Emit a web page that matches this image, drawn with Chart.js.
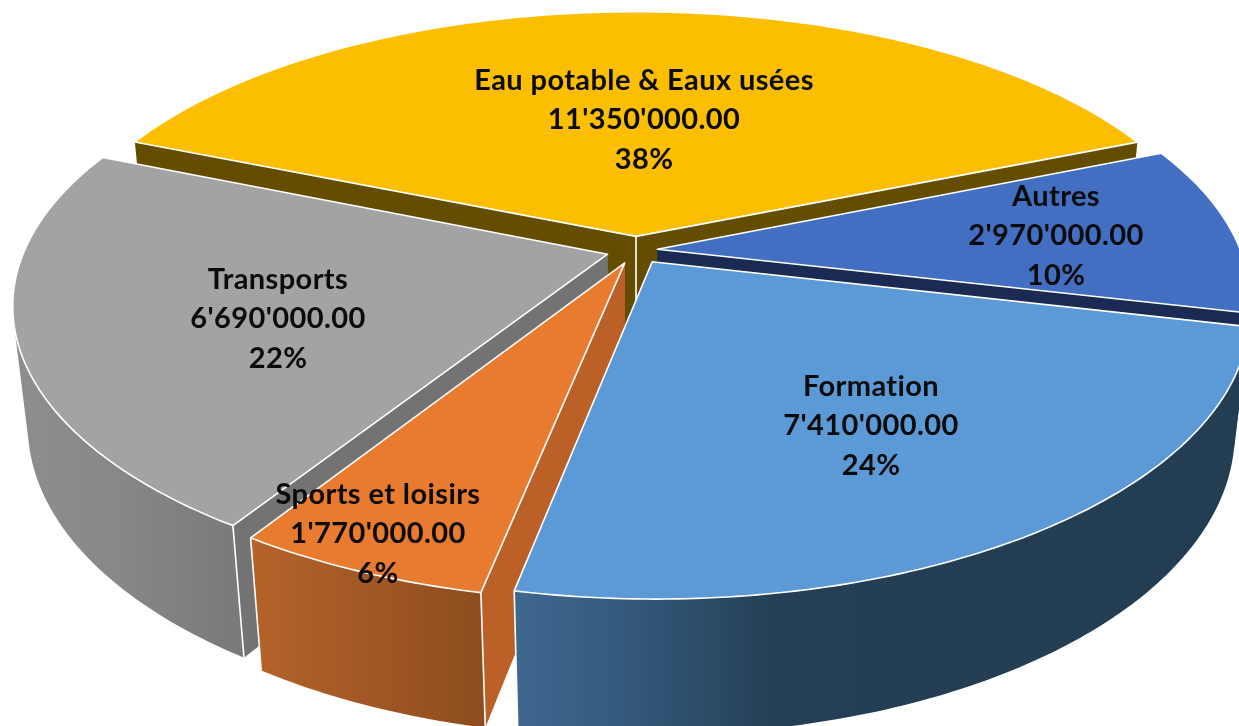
<!DOCTYPE html>
<html><head><meta charset="utf-8">
<style>html,body{margin:0;padding:0;background:#fff;overflow:hidden}canvas{display:block}</style>
<script src="https://cdn.jsdelivr.net/npm/chart.js@4/dist/chart.umd.min.js"></script>
</head><body>
<canvas id="c" width="1239" height="726" style="width:1239px;height:726px"></canvas>
<script>
const categories = ["Eau potable & Eaux usées","Autres","Formation","Sports et loisirs","Transports"];
const values = [11350000,2970000,7410000,1770000,6690000];
const percentLabels = ["38%","10%","24%","6%","22%"];
const explode = [18,13,18,18,18];
const topColors = ["#FBBE00","#426FC1","#5B9AD6","#E97B30","#A3A3A3"];
const sideColors = ["#654D00","#1B2A52","#24405A","#BB6127","#737373"];
const wallStops = [
  [[0,"#654D00"],[1,"#654D00"]],
  [[0,"#1B2A52"],[1,"#1B2A52"]],
  [[0,"#3F6890"],[0.16,"#33587A"],[0.36,"#243F55"],[1,"#233D52"]],
  [[0,"#B5632A"],[1,"#8E4D1E"]],
  [[0,"#8E8E8E"],[0.5,"#878787"],[1,"#7A7A7A"]]
];
const drawOrder = [0,1,4,3,2];
const frontSlice = [false,false,true,true,true];
const backSideDepth = 0.4;
const labelCenters = [[644,120],[1056,236],[871,426],[378,534],[278,319]];
const lineGap = 39.5;
const view = {cx:636,cy:250,A:583,B:270.5,K:0.184,Kx:0.008,M:0.024,C:121};

function project(X,Y,d){
  const w = 1 + view.K*Y + view.M*d;
  return [view.cx + view.A*X/(w - view.Kx*Y), view.cy + (-view.B*Y + view.C*d)/w];
}
function fmt(v){
  const [i,f] = v.toFixed(2).split('.');
  return i.replace(/\B(?=(\d{3})+(?!\d))/g,"'") + '.' + f;
}
const pie3d = {
  id:'pie3d',
  beforeDatasetsDraw(chart){
    const ctx = chart.ctx, meta = chart.getDatasetMeta(0);
    ctx.save();
    ctx.lineJoin='round';
    for(const i of drawOrder){
      const arc = meta.data[i];
      const a0=arc.startAngle, a1=arc.endAngle, R=arc.outerRadius, mid=(a0+a1)/2;
      const e=arc.options.offset/R;
      const ox=e*Math.cos(mid), oy=-e*Math.sin(mid);
      const pt=(t,r,d)=>project(ox+r*Math.cos(t),oy-r*Math.sin(t),d);
      const n=Math.max(8,Math.ceil((a1-a0)*70));
      const angs=[];for(let k=0;k<=n;k++)angs.push(a0+(a1-a0)*k/n);
      const xs=angs.map(t=>pt(t,1,0)[0]);
      const g=ctx.createLinearGradient(Math.min(...xs),0,Math.max(...xs),0);
      wallStops[i].forEach(s=>g.addColorStop(s[0],s[1]));
      // radial walls (Autres only shows a narrow band of its wall)
      const sd = (i===1) ? backSideDepth : 1;
      const side=(t)=>{
        const p=[pt(t,0,0),pt(t,1,0),pt(t,1,sd),pt(t,0,sd)];
        ctx.beginPath();ctx.moveTo(...p[0]);p.slice(1).forEach(q=>ctx.lineTo(...q));ctx.closePath();
        ctx.fillStyle=sideColors[i];ctx.fill();
      };
      side(a0);side(a1);
      if(frontSlice[i]){
        // outer wall: quads in one path, all wound the same way
        ctx.beginPath();
        for(let k=0;k<n;k++){
          let p=[pt(angs[k],1,0),pt(angs[k+1],1,0),pt(angs[k+1],1,1),pt(angs[k],1,1)];
          let area=0;
          p.forEach((q,j)=>{const r=p[(j+1)%4];area+=q[0]*r[1]-r[0]*q[1];});
          if(area<0)p.reverse();
          ctx.moveTo(...p[0]);p.slice(1).forEach(q=>ctx.lineTo(...q));ctx.closePath();
        }
        ctx.fillStyle=g;ctx.fill('nonzero');
      }
      // vertical edges
      ctx.strokeStyle='#fff';ctx.lineWidth=1.6;
      const vline=(t,r)=>{const a=pt(t,r,0),b=pt(t,r,1);ctx.beginPath();ctx.moveTo(...a);ctx.lineTo(...b);ctx.stroke();};
      if(i===0) vline(a0,0);
      if(frontSlice[i]){ if(i!==2) vline(a0,1); vline(a1,1); }
      // top face
      ctx.beginPath();
      ctx.moveTo(...pt(a0,0,0));
      angs.forEach(t=>ctx.lineTo(...pt(t,1,0)));
      ctx.closePath();
      ctx.fillStyle=arc.options.backgroundColor;ctx.fill();
      ctx.strokeStyle=arc.options.borderColor;ctx.lineWidth=1.6;ctx.stroke();
    }
    // labels
    ctx.fillStyle='#0B0B0B';ctx.textAlign='center';ctx.textBaseline='middle';
    ctx.font='bold 29px Lato, "Open Sans", sans-serif';
    ctx.letterSpacing='0.4px';
    categories.forEach((c,i)=>{
      const [x,y]=labelCenters[i];
      ctx.fillText(c,x,y-lineGap);
      ctx.fillText(fmt(values[i]),x,y);
      ctx.fillText(percentLabels[i],x,y+lineGap);
    });
    ctx.restore();
    return false;
  }
};
new Chart(document.getElementById('c'),{
  type:'pie',
  data:{labels:categories,datasets:[{data:values,backgroundColor:topColors,borderColor:'#fff',borderWidth:1.6,offset:explode}]},
  options:{responsive:false,animation:false,rotation:-67.65,layout:{padding:0},
    plugins:{legend:{display:false},tooltip:{enabled:false},title:{display:false}}},
  plugins:[pie3d]
});
</script>
</body></html>
